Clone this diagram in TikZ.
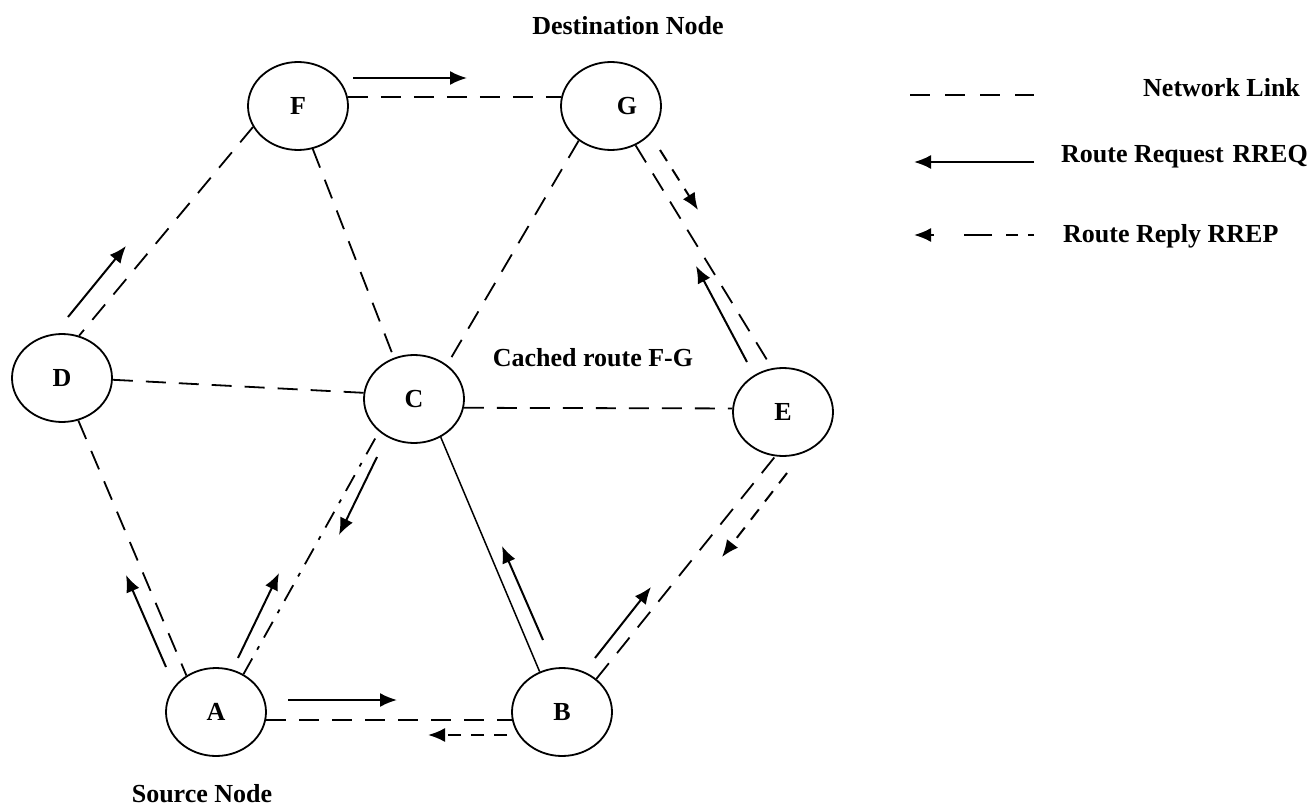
\documentclass[tikz,border=0pt]{standalone}
\usepackage{fontspec}
\setmainfont{Liberation Serif}
\usetikzlibrary{shapes.geometric,arrows.meta}
\begin{document}
\begin{tikzpicture}[x=1pt,y=-1pt,
  netnode/.style={ellipse,draw,line width=1.8pt,minimum width=100pt,minimum height=88pt,inner sep=0pt,
    font=\bfseries\fontsize{26}{30}\selectfont},
  lbl/.style={font=\bfseries\fontsize{26}{30}\selectfont,inner sep=0pt},
  netlink/.style={line width=1.8pt,dash pattern=on 20pt off 13pt},
  solidlink/.style={line width=1.5pt},
  rreq/.style={line width=2pt,-{Latex[length=17pt,width=14pt]}},
  rrep/.style={line width=2pt,dash pattern=on 13pt off 10pt,-{Latex[length=17pt,width=14pt]}}
]
\useasboundingbox (0,0) rectangle (1311,805);

% network nodes
\node[netnode] (F) at (298,106) {F};
\node[netnode,label={[lbl,xshift=16pt]center:G}] (G) at (611,106) {};
\node[netnode] (D) at (62,378) {D};
\node[netnode] (C) at (414,399) {C};
\node[netnode] (E) at (783,412) {E};
\node[netnode] (A) at (216,712) {A};
\node[netnode] (B) at (562,712) {B};

% captions
\node[lbl,anchor=base] (dest) at (628,35) {Destination Node};
\node[lbl,anchor=base] (src) at (202,802) {Source Node};
\node[lbl,anchor=base] (cache) at (593,366) {Cached route F-G};

% network links
\draw[netlink] (F.10) -- (G.170);
\draw[netlink] (F.-155) -- (D.68);
\draw[netlink] (F.-71) -- (C.116);
\draw[netlink] (G.-133) -- (C.46);
\draw[netlink] (G.-58) -- (E.104);
\draw[netlink] (D.-2) -- (C.173);
\draw[netlink] (C.-10) -- (E.176);
\draw[netlink] (D.-69) -- (A.129);
\draw[line width=1.8pt,dash pattern=on 18pt off 10pt on 4pt off 10pt] (A.54) -- (C.-137);
\draw[solidlink] (C.-55) -- (B.119);
\draw[netlink] (B.44) -- (E.-100);
\draw[netlink] (A.-9) -- (B.-171);

% route request arrows
\coordinate (q1s) at (353,78);  \coordinate (q1e) at (467,78);
\coordinate (q2s) at (68,317);  \coordinate (q2e) at (126,246);
\coordinate (q3s) at (166,667); \coordinate (q3e) at (126,575);
\coordinate (q4s) at (238,658); \coordinate (q4e) at (279,573);
\coordinate (q5s) at (288,700); \coordinate (q5e) at (397,700);
\coordinate (q6s) at (543,640); \coordinate (q6e) at (502,546);
\coordinate (q7s) at (595,658); \coordinate (q7e) at (651,587);
\coordinate (q8s) at (747,362); \coordinate (q8e) at (696,266);
\foreach \i in {1,...,8} \draw[rreq] (q\i s) -- (q\i e);

% route reply arrows
\coordinate (p1s) at (660,150); \coordinate (p1e) at (698,210);
\coordinate (p2s) at (787,473); \coordinate (p2e) at (722,557);
\coordinate (p3s) at (507,735); \coordinate (p3e) at (428,735);
\foreach \i in {1,2,3} \draw[rrep] (p\i s) -- (p\i e);
\coordinate (p4s) at (377,457); \coordinate (p4e) at (339,535);
\draw[rreq] (p4s) -- (p4e);

% legend
\coordinate (k1s) at (910,95);   \coordinate (k1e) at (1034,95);
\coordinate (k2s) at (1034,162); \coordinate (k2e) at (914,162);
\coordinate (k3s) at (1034,235); \coordinate (k3e) at (914,235);
\draw[line width=1.8pt,dash pattern=on 20pt off 15pt] (k1s) -- (k1e);
\draw[rreq] (k2s) -- (k2e);
\draw[line width=2pt,dash pattern=on 6pt off 10pt on 12pt off 14pt on 28pt off 30pt,-{Latex[length=17pt,width=14pt]}] (k3s) -- (k3e);
\node[lbl,anchor=base west] (lk1) at (1143,97) {Network Link};
\node[lbl,anchor=base west] (lk2) at (1061,163) {Route Request\hspace{9pt}RREQ};
\node[lbl,anchor=base west] (lk3) at (1063,242) {Route Reply RREP};
\end{tikzpicture}
\end{document}
